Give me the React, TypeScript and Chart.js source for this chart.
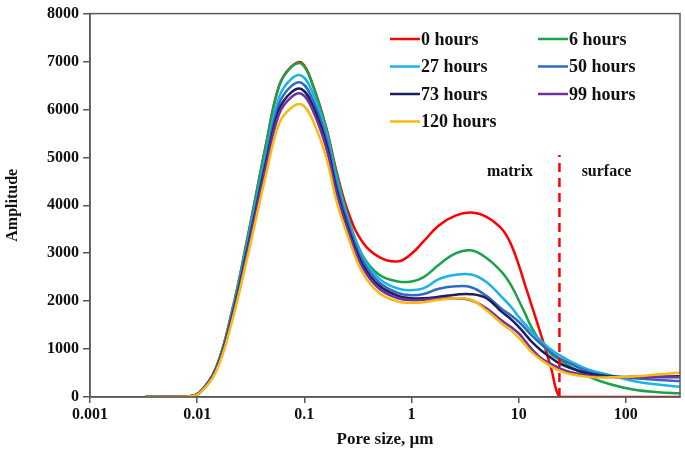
import React, { useEffect, useRef } from 'react';
import { Chart, registerables } from 'chart.js';
Chart.register(...registerables);

// Pore size (µm) sample positions shared by all series
const poreSize = [0.0033, 0.008, 0.0105, 0.015, 0.021, 0.03, 0.044, 0.058, 0.075, 0.095,
  0.12, 0.16, 0.2, 0.26, 0.35, 0.5, 0.75, 1, 1.3, 1.8, 2.6, 3.6, 5, 7, 8.5, 10, 11.5, 13, 16, 20, 24, 30, 45, 70, 120, 200, 320];

const seriesLabels = ['0 hours', '6 hours', '27 hours', '50 hours', '73 hours', '99 hours', '120 hours'];
const seriesColors = ['#ff0000', '#1aa24b', '#1cb2ea', '#2f6cc0', '#1b1f5e', '#7030a0', '#f9b90e'];

const h0 = [0, 10, 95, 610, 1760, 3400, 5280, 6490, 6890, 6970,
  6510, 5620, 4700, 3820, 3230, 2920, 2830, 2990, 3250, 3580, 3790, 3850, 3760, 3500, 3180, 2760, 2330, 1960, 1330, 620, 0, 0, 0, 0, 0, 0, 0];
const h6 = [0, 10, 95, 610, 1760, 3400, 5280, 6480, 6880, 6950,
  6500, 5600, 4650, 3700, 2950, 2550, 2410, 2410, 2500, 2760, 3000, 3060, 2900, 2600, 2330, 2020, 1740, 1480, 1150, 900, 780, 640, 425, 270, 150, 100, 77];
const h27 = [0, 10, 90, 590, 1700, 3290, 5090, 6250, 6630, 6700,
  6340, 5520, 4540, 3660, 2920, 2470, 2260, 2230, 2270, 2460, 2550, 2555, 2400, 2080, 1880, 1673, 1520, 1380, 1180, 990, 875, 750, 570, 460, 330, 260, 215];
const h50 = [0, 10, 90, 580, 1670, 3220, 4980, 6110, 6480, 6550,
  6200, 5400, 4430, 3570, 2840, 2390, 2170, 2125, 2150, 2260, 2310, 2290, 2110, 1830, 1700, 1570, 1430, 1300, 1110, 930, 805, 700, 530, 440, 390, 355, 333];
const h73 = [0, 10, 85, 570, 1640, 3160, 4890, 5990, 6350, 6420,
  6080, 5280, 4320, 3480, 2760, 2320, 2110, 2060, 2060, 2090, 2135, 2145, 2060, 1770, 1620, 1465, 1310, 1170, 980, 820, 700, 610, 490, 430, 420, 425, 435];
const h99 = [0, 10, 85, 560, 1620, 3120, 4820, 5900, 6250, 6320,
  5980, 5200, 4250, 3420, 2700, 2260, 2060, 2020, 2030, 2055, 2060, 2020, 1850, 1590, 1460, 1330, 1170, 1020, 820, 690, 600, 520, 440, 415, 410, 410, 410];
const h120 = [0, 10, 80, 530, 1550, 3000, 4650, 5700, 6030, 6100,
  5770, 5000, 4080, 3300, 2590, 2170, 1990, 1965, 1975, 2030, 2060, 2030, 1810, 1530, 1390, 1240, 1090, 950, 780, 640, 550, 480, 420, 410, 430, 470, 506];
const seriesValues = [h0, h6, h27, h50, h73, h99, h120];

// matrix / surface boundary
const boundaryX = [24, 24];
const boundaryY = [0, 5050];

const xTickValues = [0.001, 0.01, 0.1, 1, 10, 100];
const xTickLabels = ['0.001', '0.01', '0.1', '1', '10', '100'];

const regionLabels = ['matrix', 'surface'];
const regionLabelX = [8.3, 66];
const regionLabelY = 4690;

const FONT = '"Liberation Serif", "Times New Roman", serif';

const overlayPlugin = {
  id: 'overlay',
  afterDraw(chart: any) {
    const { ctx, chartArea: a, scales } = chart;
    const x = scales.x, y = scales.y;
    ctx.save();
    ctx.strokeStyle = '#595959';
    ctx.lineWidth = 1.5;
    ctx.strokeRect(a.left, a.top, a.right - a.left, a.bottom - a.top);

    ctx.fillStyle = '#111';
    ctx.font = `bold 16px ${FONT}`;
    ctx.textAlign = 'center';
    ctx.textBaseline = 'middle';
    regionLabels.forEach((t, i) => {
      ctx.fillText(t, x.getPixelForValue(regionLabelX[i]), y.getPixelForValue(regionLabelY));
    });

    // legend
    const colX = [390, 538];
    const rowY0 = 39;
    const rowGap = 27.5;
    ctx.font = `bold 18px ${FONT}`;
    ctx.textAlign = 'left';
    seriesLabels.forEach((label, i) => {
      const cx = colX[i % 2];
      const cy = rowY0 + Math.floor(i / 2) * rowGap;
      ctx.strokeStyle = seriesColors[i];
      ctx.lineWidth = 2.5;
      ctx.beginPath();
      ctx.moveTo(cx, cy);
      ctx.lineTo(cx + 30, cy);
      ctx.stroke();
      ctx.fillStyle = '#111';
      ctx.fillText(label, cx + 31, cy + 1);
    });
    ctx.restore();
  },
};

export default function App() {
  const ref = useRef<HTMLCanvasElement>(null);
  useEffect(() => {
    const datasets: any[] = seriesLabels.map((label, i) => ({
      label,
      data: poreSize.map((p, j) => ({ x: p, y: seriesValues[i][j] })),
      borderColor: seriesColors[i],
      backgroundColor: seriesColors[i],
      borderWidth: 2.5,
      pointRadius: 0,
      fill: false,
      tension: 0.4,
      order: seriesLabels.length - i,
    }));
    datasets.push({
      label: 'boundary',
      data: boundaryX.map((bx, j) => ({ x: bx, y: boundaryY[j] })),
      borderColor: '#ff0000',
      borderWidth: 2.5,
      borderDash: [9, 6],
      pointRadius: 0,
      fill: false,
      order: 0,
    });
    const chart = new Chart(ref.current!, {
      type: 'line',
      data: { datasets },
      plugins: [overlayPlugin],
      options: {
        responsive: false,
        animation: false,
        layout: { padding: { top: 13, right: 5, left: 0, bottom: 0 } },
        plugins: { legend: { display: false }, tooltip: { enabled: false } },
        scales: {
          x: {
            type: 'logarithmic',
            min: 0.001,
            max: 320,
            afterBuildTicks: (s: any) => { s.ticks = xTickValues.map((v) => ({ value: v })); },
            afterFit: (s: any) => { s.height = 60; },
            ticks: {
              autoSkip: false,
              maxRotation: 0,
              padding: 2,
              color: '#111',
              font: { family: FONT, size: 16, weight: 'bold' },
              callback: (_v: any, i: number) => xTickLabels[i],
            },
            grid: { drawOnChartArea: false, drawTicks: true, tickLength: 6, color: '#595959', lineWidth: 1.5 },
            border: { display: true, color: '#595959', width: 1.5 },
            title: {
              display: true,
              text: 'Pore size, µm',
              color: '#111',
              font: { family: FONT, size: 17, weight: 'bold' },
              padding: { top: 0, bottom: 7 },
            },
          },
          y: {
            min: 0,
            max: 8000,
            afterFit: (s: any) => { s.width = 90; },
            ticks: {
              stepSize: 1000,
              padding: 4,
              color: '#111',
              font: { family: FONT, size: 16, weight: 'bold' },
              callback: (v: any) => String(v),
            },
            grid: { drawOnChartArea: false, drawTicks: true, tickLength: 7, color: '#595959', lineWidth: 1.5 },
            border: { display: true, color: '#595959', width: 1.5 },
            title: {
              display: true,
              text: 'Amplitude',
              color: '#111',
              font: { family: FONT, size: 16, weight: 'bold' },
              padding: { top: 3, bottom: 0 },
            },
          },
        },
      } as any,
    });
    return () => chart.destroy();
  }, []);
  return (
    <div style={{ position: 'fixed', left: 0, top: 0, width: 685, height: 457, background: '#fff' }}>
      <canvas ref={ref} width={685} height={457} style={{ width: 685, height: 457, display: 'block' }} />
    </div>
  );
}
